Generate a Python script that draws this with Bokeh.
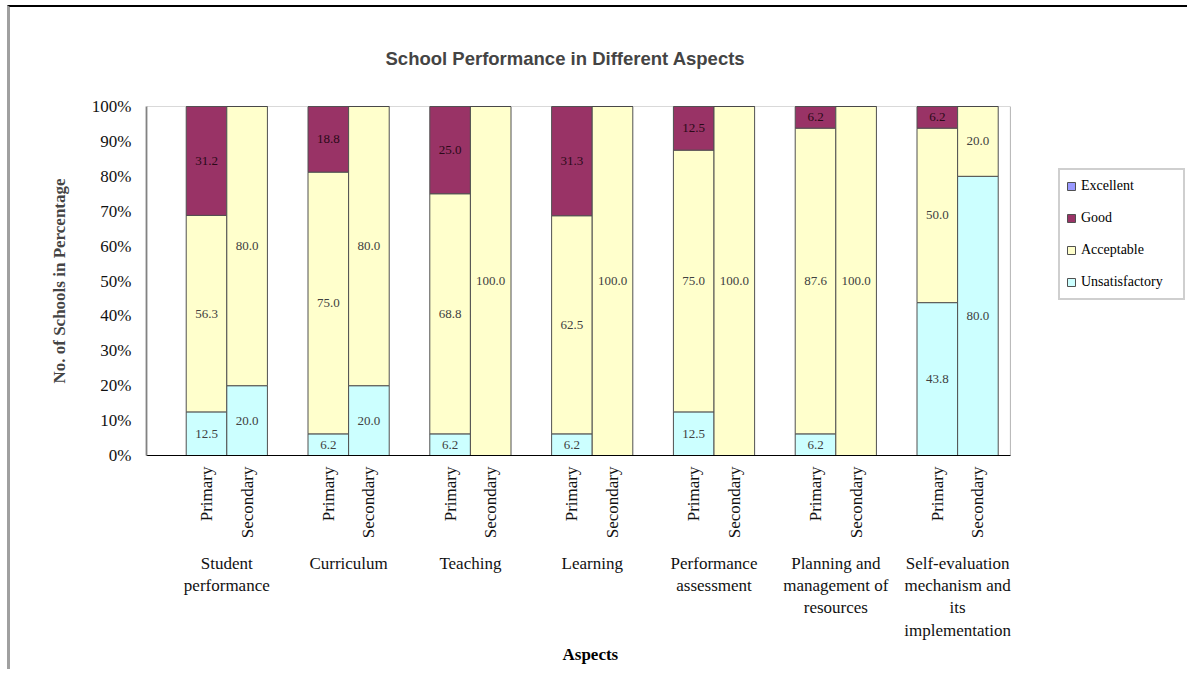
import math
from bokeh.plotting import figure
from bokeh.models import (ColumnDataSource, LabelSet, Legend, LegendItem, LinearAxis,
                          PrintfTickFormatter, FixedTicker, Range1d, BoxAnnotation, Title)
from bokeh.embed import file_html
from bokeh.resources import INLINE

# ---------------- data ----------------
aspects = ["Student\nperformance", "Curriculum", "Teaching", "Learning",
           "Performance\nassessment", "Planning and\nmanagement of\nresources",
           "Self-evaluation\nmechanism and\nits\nimplementation"]
series = ["Unsatisfactory", "Acceptable", "Good", "Excellent"]
colors = {"Unsatisfactory": "#CCFFFF", "Acceptable": "#FFFFCC",
          "Good": "#993366", "Excellent": "#9999FF"}
school_levels = ["Primary", "Secondary"]

primary_unsatisfactory = [12.5, 6.2, 6.2, 6.2, 12.5, 6.2, 43.8]
primary_acceptable = [56.3, 75.0, 68.8, 62.5, 75.0, 87.6, 50.0]
primary_good = [31.2, 18.8, 25.0, 31.3, 12.5, 6.2, 6.2]
primary_excellent = [0, 0, 0, 0, 0, 0, 0]

secondary_unsatisfactory = [20.0, 20.0, 0, 0, 0, 0, 80.0]
secondary_acceptable = [80.0, 80.0, 100.0, 100.0, 100.0, 100.0, 20.0]
secondary_good = [0, 0, 0, 0, 0, 0, 0]
secondary_excellent = [0, 0, 0, 0, 0, 0, 0]

y_ticks = [0, 10, 20, 30, 40, 50, 60, 70, 80, 90, 100]

SERIF = "Liberation Serif"
SANS = "Liberation Sans"

# x positions: group g -> primary at 3g+1, secondary at 3g+2
n = len(aspects)
x_primary = [3 * g + 1 for g in range(n)]
x_secondary = [3 * g + 2 for g in range(n)]
x_group = [3 * g + 1.5 for g in range(n)]
AREA_START, AREA_END = -0.478, 20.80      # visible plot-area box
VIEW_END = 25.236                          # frame extends under the legend

src = ColumnDataSource(dict(
    xp=x_primary, xs=x_secondary,
    p_Unsatisfactory=primary_unsatisfactory, p_Acceptable=primary_acceptable,
    p_Good=primary_good, p_Excellent=primary_excellent,
    s_Unsatisfactory=secondary_unsatisfactory, s_Acceptable=secondary_acceptable,
    s_Good=secondary_good, s_Excellent=secondary_excellent,
))

p = figure(width=1180, height=664, output_backend="svg", toolbar_location=None,
           x_range=Range1d(AREA_START, VIEW_END), y_range=Range1d(0, 100),
           min_border_left=136, min_border_right=0, min_border_top=97,
           min_border_bottom=216)
p.styles = {"margin-top": "5px", "margin-left": "7px",
            "border-top": "2px solid #000000", "border-left": "3px solid #a0a0a0"}
p.grid.visible = False
p.outline_line_color = None

p.add_layout(BoxAnnotation(left=AREA_START, right=AREA_END, bottom=0, top=100,
                           fill_color=None, line_color="#000000", line_width=1))

rp = p.vbar_stack([f"p_{s}" for s in series], x="xp", width=1.0,
                  source=src, color=[colors[s] for s in series],
                  line_color="#505050", line_width=1)
rs = p.vbar_stack([f"s_{s}" for s in series], x="xs", width=1.0,
                  source=src, color=[colors[s] for s in series],
                  line_color="#505050", line_width=1)

# ---------------- segment value labels ----------------
lab = dict(x=[], y=[], t=[], c=[])
for xs_, vals in ((x_primary, [primary_unsatisfactory, primary_acceptable, primary_good, primary_excellent]),
                  (x_secondary, [secondary_unsatisfactory, secondary_acceptable, secondary_good, secondary_excellent])):
    for i in range(n):
        base = 0
        for k, v in enumerate(vals):
            if v[i] > 0:
                lab["x"].append(xs_[i])
                lab["y"].append(base + v[i] / 2)
                lab["t"].append(f"{v[i]:.1f}")
                lab["c"].append("#2a0a18" if k == 2 else "#404040")
            base += v[i]
p.add_layout(LabelSet(x="x", y="y", text="t", source=ColumnDataSource(lab),
                      text_align="center", text_baseline="middle",
                      text_font=SERIF, text_font_size="13px", text_color="c"))

# ---------------- y axis ----------------
yax = p.yaxis[0]
yax.ticker = FixedTicker(ticks=y_ticks)
yax.formatter = PrintfTickFormatter(format="%d%%")
yax.major_tick_line_color = None
yax.minor_tick_line_color = None
yax.major_tick_in = 0
yax.major_tick_out = 0
yax.major_label_standoff = 15
yax.major_label_text_font = SERIF
yax.major_label_text_font_size = "17px"
yax.major_label_text_color = "#111111"
yax.axis_line_color = "#999999"
yax.axis_line_width = 2
yax.axis_label = "No. of Schools in Percentage"
yax.axis_label_text_font = SERIF
yax.axis_label_text_font_style = "bold"
yax.axis_label_text_font_size = "17px"
yax.axis_label_standoff = 20

# ---------------- x axes (level labels, then aspect labels) ----------------
xax = p.xaxis[0]
xax.bounds = (AREA_START, AREA_END)
xax.ticker = FixedTicker(ticks=x_primary + x_secondary)
xax.major_label_overrides = {**{x: school_levels[0] for x in x_primary},
                             **{x: school_levels[1] for x in x_secondary}}
xax.major_label_orientation = math.pi / 2
xax.major_tick_line_color = None
xax.minor_tick_line_color = None
xax.major_tick_in = 0
xax.major_tick_out = 0
xax.major_label_standoff = 11
xax.major_label_text_font = SERIF
xax.major_label_text_font_size = "17px"
xax.major_label_text_color = "#111111"
xax.axis_line_color = "#000000"

gax = LinearAxis(ticker=FixedTicker(ticks=x_group), bounds=(AREA_START, AREA_END),
                 major_label_overrides={x: a for x, a in zip(x_group, aspects)})
gax.major_tick_line_color = None
gax.minor_tick_line_color = None
gax.major_tick_in = 0
gax.major_tick_out = 0
gax.axis_line_color = None
gax.major_label_standoff = 12
gax.major_label_text_font = SERIF
gax.major_label_text_font_size = "17px"
gax.major_label_text_color = "#111111"
gax.major_label_text_line_height = 1.18
p.add_layout(gax, "below")

p.add_layout(Title(text="Aspects", align="left", offset=416, standoff=0,
                   text_font=SERIF, text_font_style="bold", text_font_size="17px",
                   text_color="#000000"), "below")

# ---------------- title ----------------
p.title.text = "School Performance in Different Aspects"
p.title.align = "left"
p.title.offset = 239
p.title.text_font = SANS
p.title.text_font_style = "bold"
p.title.text_font_size = "18.5px"
p.title.standoff = 76

# ---------------- legend ----------------
order = ["Excellent", "Good", "Acceptable", "Unsatisfactory"]
items = [LegendItem(label=s, renderers=[rp[series.index(s)]]) for s in order]
legend = Legend(items=items, location=(912, 155), orientation="vertical",
                glyph_width=10, glyph_height=10, label_height=20, spacing=12,
                padding=6, margin=0, label_standoff=5, label_width=96,
                label_text_font=SERIF, label_text_font_size="14px",
                label_text_color="#000000", border_line_color="#a0a0a0",
                border_line_width=2, background_fill_color="white",
                background_fill_alpha=1.0)
p.add_layout(legend, "center")

open("out.html", "w").write(file_html(p, INLINE))
